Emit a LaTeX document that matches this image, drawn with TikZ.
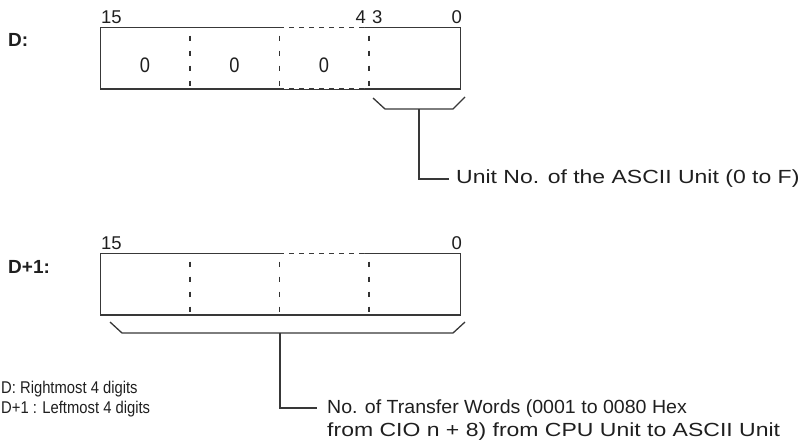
\documentclass[tikz,border=0pt]{standalone}
\usepackage{fontspec}
\setmainfont{Liberation Sans}
\newfontfamily\narrowfont{Liberation Sans}[FakeStretch=0.87]
\newfontfamily\midfont{Liberation Sans}[FakeStretch=1.03]
\newfontfamily\widefont{Liberation Sans}[FakeStretch=1.21]
\begin{document}
\begin{tikzpicture}[x=1pt,y=-1pt]
\useasboundingbox (0,0) rectangle (798,447);
\tikzset{
  ln/.style={draw=black!78, line width=1.3pt},
  reg/.style={draw=black!78, line width=1.3pt, minimum width=360pt, minimum height=61.5pt, inner sep=0pt, anchor=north west},
  divline/.style={draw=black!80, line width=1.1pt, dash pattern=on 5pt off 10pt, dash phase=6pt},
  faint/.style={draw=white, line width=1.6pt, dash pattern=on 5pt off 5pt},
  bitno/.style={font=\fontsize{18.5}{22}\selectfont, inner sep=0pt, text=black!88},
  zero/.style={font=\fontsize{21}{24}\narrowfont, inner sep=0pt, text=black!88},
  wtxt/.style={font=\fontsize{19}{23}\widefont, inner sep=0pt, text=black!88},
  ntxt/.style={font=\fontsize{17}{20}\narrowfont, inner sep=0pt, text=black!88},
  bold/.style={font=\fontsize{19}{22}\selectfont\bfseries, inner sep=0pt, text=black!88},
}
% register D
\node[reg] (w1) at (100,26.7) {};
\foreach \x in {190,279.5,369} \draw[divline] (\x,26.7) -- (\x,88.3);
\draw[faint] (284,26.7) -- (364,26.7);
\draw[faint] (284,88.3) -- (364,88.3);
\node[bold, anchor=west] (lD) at (8,40) {D:};
\node[bitno, anchor=south west] (b15a) at (101,23.5) {15};
\node[bitno, anchor=south east] (b4) at (366,23.5) {4};
\node[bitno, anchor=south west] (b3) at (372,23.5) {3};
\node[bitno, anchor=south east] (b0a) at (462,23.5) {0};
\node[zero] (z1) at (145,65) {0};
\node[zero] (z2) at (234.5,65) {0};
\node[zero] (z3) at (324,65) {0};
% bracket 1
\draw[ln] (373,98) -- (385,109) -- (453,109) -- (465,97);
\coordinate (k1) at (419,109);
\coordinate (e1) at (449,179);
\node[wtxt, anchor=west] (u1) at (456,179) {Unit No. of the ASCII Unit (0 to F)};
\draw[ln] (k1) |- (e1);
% register D+1
\node[reg] (w2) at (100,252.7) {};
\foreach \x in {190,279.5,369} \draw[divline] (\x,252.7) -- (\x,313.3);
\draw[faint] (284,252.7) -- (364,252.7);
\draw[faint] (284,313.3) -- (364,313.3);
\node[bold, anchor=west] (lD1) at (8,267) {D+1:};
\node[bitno, anchor=south west] (b15b) at (101,249.5) {15};
\node[bitno, anchor=south east] (b0b) at (462,249.5) {0};
% bracket 2
\draw[ln] (110,322) -- (122,333) -- (453,333) -- (465,322);
\coordinate (k2) at (280,333);
\coordinate (e2) at (317,408);
\node[wtxt, anchor=north west, align=left] (u2) at (327,399.5)
  {{\midfont No. of Transfer Words (0001 to 0080 Hex}\\from CIO n + 8) from CPU Unit to ASCII Unit};
\draw[ln] (k2) |- (e2);
% note
\node[ntxt, anchor=north west, align=left] (note) at (1,380.5)
  {D: Rightmost 4 digits\\D+1 : Leftmost 4 digits};
\end{tikzpicture}
\end{document}
